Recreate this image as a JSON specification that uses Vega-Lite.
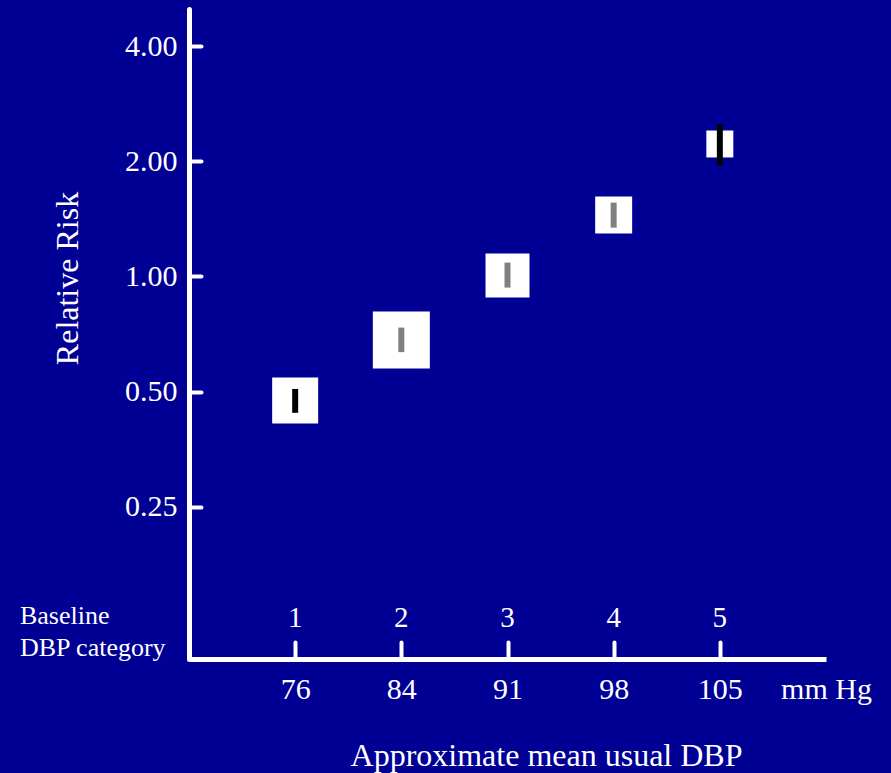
{
  "$schema": "https://vega.github.io/schema/vega-lite/v6.json",
  "width": 637,
  "height": 650,
  "autosize": {"type": "none"},
  "padding": {"left": 189, "top": 9, "right": 65, "bottom": 114},
  "background": "#000094",
  "config": {
    "view": {"stroke": null},
    "font": "Liberation Serif",
    "axis": {"grid": false}
  },
  "datasets": {
    "risk": [
      {"cat": 1, "dbp": 76, "rr": 0.474, "lo": 0.440, "hi": 0.508, "w": 65.1},
      {"cat": 2, "dbp": 84, "rr": 0.682, "lo": 0.634, "hi": 0.735, "w": 100},
      {"cat": 3, "dbp": 91, "rr": 1.005, "lo": 0.935, "hi": 1.087, "w": 59.6},
      {"cat": 4, "dbp": 98, "rr": 1.448, "lo": 1.341, "hi": 1.559, "w": 42.1},
      {"cat": 5, "dbp": 105, "rr": 2.219, "lo": 1.956, "hi": 2.498, "w": 22.4}
    ],
    "note": [{"label": "Baseline\nDBP category"}]
  },
  "layer": [
    {
      "data": {"name": "risk"},
      "mark": {"type": "point", "shape": "square", "filled": true, "color": "white", "opacity": 1, "strokeWidth": 0},
      "encoding": {
        "x": {
          "field": "cat", "type": "quantitative",
          "scale": {"domain": [0, 6], "nice": false, "zero": false},
          "axis": {
            "values": [1, 2, 3, 4, 5, 6],
            "labelExpr": "datum.value == 6 ? 'mm Hg' : ['', '76', '84', '91', '98', '105'][datum.value]",
            "domainColor": "white", "domainWidth": 5,
            "tickColor": {"condition": {"test": "datum.value == 6", "value": "transparent"}, "value": "white"},
            "tickWidth": 4, "tickSize": -17, "tickCap": "round",
            "labelColor": "white", "labelFont": "Liberation Serif", "labelFontSize": 30,
            "labelBaseline": "alphabetic", "labelPadding": 56, "labelFlush": false, "labelOverlap": false, "labelBound": false,
            "title": "Approximate mean usual DBP",
            "titleColor": "white", "titleFont": "Liberation Serif", "titleFontSize": 32, "titleFontWeight": "normal",
            "titleX": 357, "titleY": 106, "titleAlign": "center", "titleBaseline": "alphabetic"
          }
        },
        "y": {
          "field": "rr", "type": "quantitative",
          "scale": {"type": "log", "base": 2, "domain": [0.1, 5], "nice": false},
          "axis": {
            "values": [0.25, 0.5, 1, 2, 4], "format": ".2f",
            "domainColor": "white", "domainWidth": 5, "domainCap": "round",
            "tickColor": "white", "tickWidth": 4, "tickSize": -12, "tickCap": "round",
            "labelColor": "white", "labelFont": "Liberation Serif", "labelFontSize": 30, "labelPadding": 24,
            "labelBaseline": "middle", "labelOverlap": false,
            "title": "Relative Risk",
            "titleColor": "white", "titleFont": "Liberation Serif", "titleFontSize": 32, "titleFontWeight": "normal",
            "titleX": -112, "titleY": 269, "titleAngle": -90, "titleAlign": "center", "titleBaseline": "alphabetic"
          }
        },
        "size": {"field": "w", "type": "quantitative", "scale": {"domain": [0, 100], "range": [0, 3249]}, "legend": null}
      }
    },
    {
      "data": {"name": "risk"},
      "mark": {"type": "rule", "strokeWidth": 6},
      "encoding": {
        "x": {"field": "cat", "type": "quantitative"},
        "y": {"field": "lo", "type": "quantitative"},
        "y2": {"field": "hi"},
        "color": {"condition": {"test": "datum.cat == 1 || datum.cat == 5", "value": "black"}, "value": "#808080"}
      }
    },
    {
      "data": {"name": "risk"},
      "mark": {"type": "text", "color": "white", "fontSize": 29, "font": "Liberation Serif", "baseline": "middle", "align": "center"},
      "encoding": {
        "x": {"field": "cat", "type": "quantitative"},
        "y": {"datum": 0.128, "type": "quantitative"},
        "text": {"field": "cat", "type": "nominal"}
      }
    },
    {
      "data": {"name": "note"},
      "mark": {"type": "text", "color": "white", "fontSize": 26, "font": "Liberation Serif", "baseline": "alphabetic", "align": "left", "lineBreak": "\n", "lineHeight": 32},
      "encoding": {
        "x": {"datum": -1.592, "type": "quantitative"},
        "y": {"datum": 0.1231, "type": "quantitative"},
        "text": {"field": "label", "type": "nominal"}
      }
    }
  ]
}
